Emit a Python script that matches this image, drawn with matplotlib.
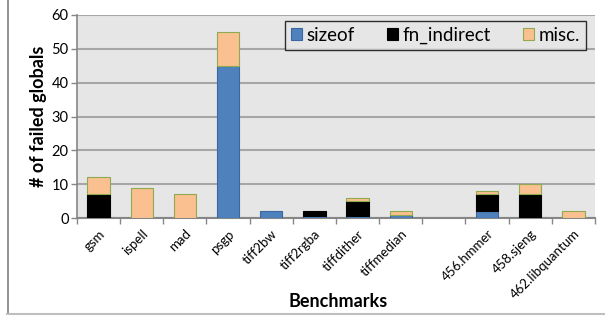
import matplotlib
matplotlib.use("Agg")
import matplotlib.pyplot as plt
import numpy as np

benchmarks = ["gsm", "ispell", "mad", "psgp", "tiff2bw", "tiff2rgba", "tiffdither",
              "tiffmedian", "", "456.hmmer", "458.sjeng", "462.libquantum"]
sizeof = [0, 0, 0, 45, 2, 0.5, 0.5, 1, 0, 2, 0, 0]
fn_indirect = [7, 0, 0, 0, 0, 1.5, 4.5, 0, 0, 5, 7, 0]
misc = [5, 9, 7, 10, 0, 0, 1, 1, 0, 1, 3, 2]

plt.rcParams["font.family"] = ["Lato", "DejaVu Sans"]

fig = plt.figure(figsize=(6.05, 3.17), dpi=100)
W, H = 605, 317
ax = fig.add_axes([77 / W, 1 - 218 / H, (595 - 77) / W, (218 - 15) / H])
ax.set_facecolor("#e6e6e6")

x = np.arange(len(benchmarks))
bw = 0.52
s = np.array(sizeof, dtype=float)
f = np.array(fn_indirect, dtype=float)
m = np.array(misc, dtype=float)


def stack(vals, bottom, **kw):
    keep = vals > 0
    return ax.bar(x[keep], vals[keep], bw, bottom=bottom[keep], linewidth=0.8, zorder=3, **kw)


stack(s, np.zeros_like(s), color="#4f81bd", edgecolor="#3a67a0", label="sizeof")
stack(f, s, color="#000000", edgecolor="#000000", label="fn_indirect")
stack(m, s + f, color="#fac090", edgecolor="#8faa4f", label="misc.")

ax.set_xlim(-0.5, len(benchmarks) - 0.5)
ax.set_ylim(0, 60)
ax.set_yticks(range(0, 61, 10))
ax.yaxis.grid(True, color="#a6a6a6", linewidth=1.5, zorder=0)
ax.set_axisbelow(True)

ax.set_xticks(x)
ax.set_xticklabels(benchmarks, rotation=45, ha="right", rotation_mode="anchor", fontsize=9.5)
ax.tick_params(axis="x", length=0, pad=7)
ax.set_xticks(np.arange(-0.5, len(benchmarks)), minor=True)
ax.tick_params(axis="x", which="minor", length=4, color="#868686", width=1)
ax.tick_params(axis="y", length=4, color="#868686", width=1, labelsize=10.5, pad=2)

for side in ["top", "right"]:
    ax.spines[side].set_visible(False)
ax.spines["left"].set_color("#868686")
ax.spines["bottom"].set_color("#868686")
ax.spines["left"].set_linewidth(1.2)
ax.spines["bottom"].set_linewidth(1.5)

ax.set_ylabel("# of failed globals", fontsize=13, fontweight="bold", labelpad=3)
ax.set_xlabel("Benchmarks", fontsize=13, fontweight="bold")
ax.xaxis.set_label_coords(0.505, -0.37)

leg = ax.legend(loc="upper right", bbox_to_anchor=(0.9825, 0.97), borderaxespad=0, ncol=3,
                fontsize=13.5, frameon=True, fancybox=False, handlelength=0.6, handleheight=0.6,
                handletextpad=0.25, columnspacing=1.7, borderpad=0.3)
leg.get_frame().set_edgecolor("#000000")
leg.get_frame().set_facecolor("#e6e6e6")
leg.get_frame().set_linewidth(1.0)

# outer chart border (only left and bottom edges show)
fig.add_artist(plt.Line2D([7.5 / W, 7.5 / W], [3 / H, 1], color="#7f7f7f", linewidth=1.2))
fig.add_artist(plt.Line2D([7 / W, 1], [3 / H, 3 / H], color="#bfbfbf", linewidth=1.5))

fig.savefig("out.png", dpi=100)
